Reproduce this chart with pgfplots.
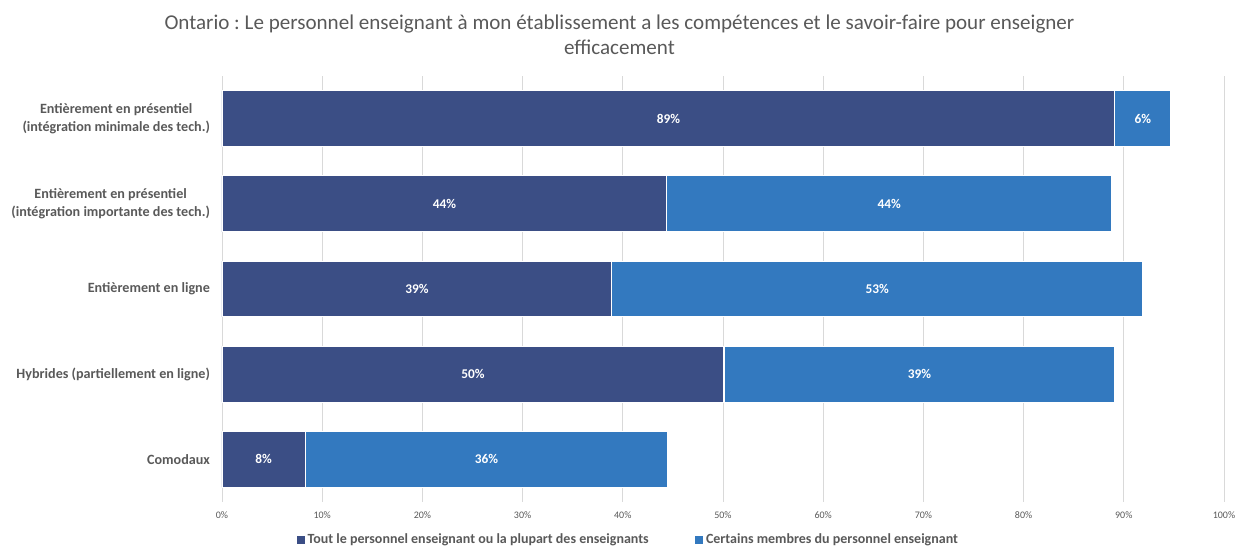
\documentclass[border=0pt]{standalone}
\usepackage{pgfplots}
\pgfplotsset{compat=1.18}
\usepackage{pgfplotstable}
\usepackage{fontspec}
\setmainfont{Carlito}
\frenchspacing
\definecolor{darkb}{HTML}{3B4E85}
\definecolor{lightb}{HTML}{3379BF}
\definecolor{txtgray}{HTML}{595959}
\definecolor{gridgray}{HTML}{D9D9D9}
\pgfplotstableread{
y a b
0 89.1 5.6
1 44.4 44.4
2 38.9 53.0
3 50.1 39.0
4 8.3 36.2
}\data
\begin{document}
\begin{tikzpicture}
\useasboundingbox (-166.5pt,-33.75pt) rectangle ++(929.25pt,410.25pt);
\pgfplotsset{
  common/.style={
    at={(0pt,0pt)}, anchor=south west,
    scale only axis, width=751.5pt, height=319.5pt,
    xmin=0, xmax=100, ymin=-0.5, ymax=4.5, y dir=reverse,
    axis line style={draw=none}, major tick length=0pt,
    /pgf/number format/assume math mode=true,
  }
}
\begin{axis}[common,
  xbar stacked, bar width=0.656,
  xtick={0,10,...,100},
  xticklabel={\pgfmathprintnumber[fixed,precision=0]{\tick}\%},
  xticklabel style={font=\fontsize{7.5}{8}\selectfont, text=txtgray, yshift=-4pt},
  xmajorgrids, grid style={gridgray, line width=0.6pt},
  ytick={0,1,2,3,4},
  yticklabels={{Entièrement en présentiel\\(intégration minimale des tech.)},
               {Entièrement en présentiel\\(intégration importante des tech.)},
               {Entièrement en ligne},
               {Hybrides (partiellement en ligne)},
               {Comodaux}},
  yticklabel style={font=\fontsize{10.6}{13}\selectfont\bfseries, text=txtgray, align=center, xshift=-5.5pt},
  legend style={draw=none, at={(0.406,-0.089)}, anchor=center, legend columns=2,
    font=\fontsize{10.5}{12}\selectfont\bfseries, text=txtgray,
    /tikz/every even column/.append style={column sep=33pt}},
  legend image code/.code={\path[#1,draw=none] (0pt,-3pt) rectangle (6pt,3pt);},
]
\addplot[fill=darkb, draw=white, line width=0.8pt] table[x=a, y=y] {\data};
\addplot[fill=lightb, draw=white, line width=0.8pt] table[x=b, y=y] {\data};
\legend{Tout le personnel enseignant ou la plupart des enseignants, Certains membres du personnel enseignant}
\end{axis}
\begin{axis}[common, hide axis,
  nodes near coords={\pgfmathprintnumber[fixed,precision=0]{\pgfplotspointmeta}\%},
  every node near coord/.append style={anchor=center, text=white, font=\fontsize{10}{12}\selectfont\bfseries},
]
\addplot[only marks, mark=none, point meta=explicit] table[x expr=\thisrow{a}/2, y=y, meta=a] {\data};
\addplot[only marks, mark=none, point meta=explicit] table[x expr=\thisrow{a}+\thisrow{b}/2, y=y, meta=b] {\data};
\end{axis}
\node[align=center, text=txtgray, font=\fontsize{15.8}{19}\selectfont] at (298.1pt,350.25pt)
  {Ontario : Le personnel enseignant à mon établissement a les compétences et le savoir-faire pour enseigner\\efficacement};
\end{tikzpicture}
\end{document}
